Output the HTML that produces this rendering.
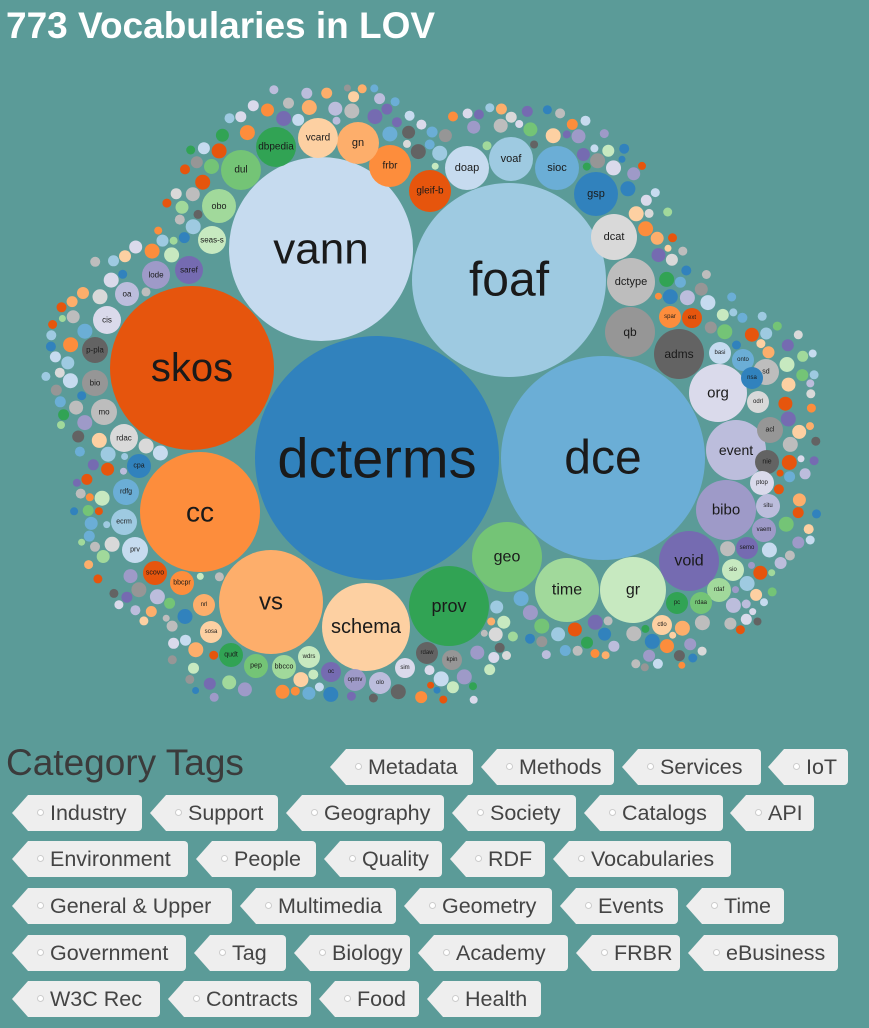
<!DOCTYPE html>
<html><head><meta charset="utf-8">
<style>
html,body{margin:0;padding:0;}
body{width:869px;height:1028px;background:#5b9b98;position:relative;overflow:hidden;font-family:"Liberation Sans",sans-serif;}
h1{position:absolute;left:6px;top:5px;margin:0;font-size:37px;font-weight:bold;color:#fff;}
h2{position:absolute;left:6px;top:742px;margin:0;font-size:37px;font-weight:normal;color:#3b3b3b;}
.t{position:absolute;height:36px;background:#eeeeee;clip-path:polygon(16px 0,100% 0,100% 100%,16px 100%,0 50%);border-radius:0 4px 4px 0;font-size:21.5px;color:#444;line-height:36px;box-sizing:border-box;padding-left:38px;white-space:nowrap;}
.t::before{content:"";position:absolute;left:26px;top:15px;width:5px;height:5px;border-radius:50%;background:#fff;box-shadow:0 0 0 1px #ccc;}
svg{position:absolute;left:0;top:0;}
svg text{font-family:"Liberation Sans",sans-serif;text-anchor:middle;dominant-baseline:central;fill:#1a1a1a;}
</style></head><body>
<h1>773 Vocabularies in LOV</h1>
<svg id="s" width="869" height="740" viewBox="0 0 869 740"></svg>
<h2>Category Tags</h2>
<div id="tags"></div>
<script>
var N=[
["dcterms",377,458,122,"#3182bd",56],["dce",603,458,102,"#6baed6",48],["foaf",509,280,97,"#9ecae1",48],["vann",321,249,92,"#c6dbef",44],
["skos",192,368,82,"#e6550d",40],["cc",200,512,60,"#fd8d3c",28],["vs",271,602,52,"#fdae6b",24],["schema",366,627,44,"#fdd0a2",20],
["prov",449,606,40,"#31a354",18],["geo",507,557,35,"#74c476",16],["time",567,590,32,"#a1d99b",16],["gr",633,590,33,"#c7e9c0",16],
["void",689,561,30,"#756bb1",16],["bibo",726,510,30,"#9e9ac8",15],["event",736,450,30,"#bcbddc",14],["org",718,393,29,"#dadaeb",15],
["adms",679,354,25,"#636363",12],["qb",630,332,25,"#969696",12],["dctype",631,282,24,"#bdbdbd",11],["dcat",614,237,23,"#d9d9d9",11],
["gsp",596,194,22,"#3182bd",11],["sioc",557,168,22,"#6baed6",11],["voaf",511,159,22,"#9ecae1",11],["doap",467,168,22,"#c6dbef",11],
["gleif-b",430,191,21,"#e6550d",10],["frbr",390,166,21,"#fd8d3c",10],["gn",358,143,21,"#fdae6b",11],["vcard",318,138,20,"#fdd0a2",10],
["dbpedia",276,147,20,"#31a354",10],["dul",241,170,20,"#74c476",10],["obo",219,206,17,"#a1d99b",9],["seas-s",212,240,14,"#c7e9c0",8],
["saref",189,270,14,"#756bb1",8],["lode",156,275,14,"#9e9ac8",8],["oa",127,294,12,"#bcbddc",8],["cis",107,320,14,"#dadaeb",8],
["p-pla",95,350,13,"#636363",8],["bio",95,383,13,"#969696",8],["mo",104,412,13,"#bdbdbd",8],["rdac",124,438,14,"#d9d9d9",8],
["cpa",139,466,12,"#3182bd",7],["rdfg",126,492,13,"#6baed6",7],["ecrm",124,522,13,"#9ecae1",7],["prv",135,550,13,"#c6dbef",7],
["scovo",155,573,12,"#e6550d",7],["bbcpr",182,583,12,"#fd8d3c",7],["nrl",204,605,11,"#fdae6b",6],["sosa",211,632,11,"#fdd0a2",6],
["qudt",231,655,12,"#31a354",7],["pep",256,666,12,"#74c476",7],["bbcco",284,667,12,"#a1d99b",7],["wdrs",309,657,11,"#c7e9c0",6],
["oc",331,672,10,"#756bb1",6],["opmv",355,680,11,"#9e9ac8",6],["olo",380,683,11,"#bcbddc",6],["sim",405,668,10,"#dadaeb",6],
["rdaw",427,653,11,"#636363",6],["kpin",452,660,10,"#969696",6],
["sd",766,372,13,"#bdbdbd",7],["acl",770,430,13,"#969696",7],["nie",767,462,12,"#636363",7],["ptop",762,483,12,"#dadaeb",6],["situ",768,506,12,"#bcbddc",6],["vaem",764,530,12,"#9e9ac8",6],["semo",747,548,11,"#756bb1",6],
["rdaf",719,590,12,"#a1d99b",6],["sio",733,570,11,"#c7e9c0",6],["rdaa",701,603,11,"#74c476",6],["pc",677,603,11,"#31a354",6],["ctlo",662,625,10,"#fdd0a2",6],
["basi",720,353,11,"#c6dbef",6],["onto",743,360,11,"#6baed6",6],["nsa",752,378,11,"#3182bd",6],["odrl",758,402,11,"#d9d9d9",6],["spar",670,317,11,"#fd8d3c",6],["ext",692,318,10,"#e6550d",6]
];
var pal=["#3182bd","#6baed6","#9ecae1","#c6dbef","#e6550d","#fd8d3c","#fdae6b","#fdd0a2","#31a354","#74c476","#a1d99b","#c7e9c0","#756bb1","#9e9ac8","#bcbddc","#dadaeb","#636363","#969696","#bdbdbd","#d9d9d9"];
var poly=[[596,194],[614,237],[631,282],[630,332],[679,354],[718,393],[736,450],[726,510],[689,561],[633,590],[567,590],[449,606],[366,627],[271,602],[200,512],[192,368],[189,270],[219,206],[241,170],[276,147],[318,138],[358,143],[390,166],[430,191],[467,168],[511,159],[557,168]];
function inPoly(x,y){var c=false;for(var i=0,j=poly.length-1;i<poly.length;j=i++){var a=poly[i],b=poly[j];if(((a[1]>y)!=(b[1]>y))&&(x<(b[0]-a[0])*(y-a[1])/(b[1]-a[1])+a[0]))c=!c;}return c;}
var C=N.map(function(n){return [n[1],n[2],n[3]];});
var seed=12345;function rnd(){seed=(seed*1103515245+12345)%2147483648;return seed/2147483648;}
function ok(x,y,r){if(inPoly(x,y))return false;if(y>704-r||y<84+r)return false;
 var dm=1e9;for(var i=0;i<N.length;i++){var d=Math.hypot(x-C[i][0],y-C[i][1])-C[i][2];if(d<dm)dm=d;}
 if(dm>42-r)return false;
 if(r>4 && r>9-dm*0.12)return false;
 for(var k=0;k<C.length;k++){var c=C[k];if(Math.hypot(x-c[0],y-c[1])<r+c[2]+0.8)return false;}return true;}
var extra=[];
[9,8,7.5,7,6.5,6,5.5,5,4.5,4,3.5].forEach(function(r){for(var t=0;t<25000;t++){var x=30+rnd()*810,y=70+rnd()*650;if(ok(x,y,r)){C.push([x,y,r]);extra.push([x,y,r]);}}});
var h="";
extra.forEach(function(e,i){h+='<circle cx="'+e[0].toFixed(1)+'" cy="'+e[1].toFixed(1)+'" r="'+e[2]+'" fill="'+pal[Math.floor(rnd()*20)]+'"/>';});
N.forEach(function(n){h+='<circle cx="'+n[1]+'" cy="'+n[2]+'" r="'+n[3]+'" fill="'+n[4]+'"/><text x="'+n[1]+'" y="'+n[2]+'" font-size="'+n[5]+'">'+n[0]+'</text>';});
document.getElementById("s").innerHTML=h;
var T=[[749,[["Metadata",330,473],["Methods",481,614],["Services",622,761],["IoT",768,848]]],
[795,[["Industry",12,142],["Support",150,278],["Geography",286,444],["Society",452,576],["Catalogs",584,723],["API",730,814]]],
[841,[["Environment",12,188],["People",196,316],["Quality",324,442],["RDF",450,545],["Vocabularies",553,731]]],
[888,[["General &amp; Upper",12,232],["Multimedia",240,396],["Geometry",404,552],["Events",560,678],["Time",686,784]]],
[935,[["Government",12,186],["Tag",194,286],["Biology",294,410],["Academy",418,568],["FRBR",576,680],["eBusiness",688,838]]],
[981,[["W3C Rec",12,160],["Contracts",168,311],["Food",319,419],["Health",427,541]]]];
var g="";T.forEach(function(r){r[1].forEach(function(t){g+='<div class="t" style="top:'+r[0]+'px;left:'+t[1]+'px;width:'+(t[2]-t[1])+'px">'+t[0]+'</div>';});});
document.getElementById("tags").innerHTML=g;
</script>
</body></html>
